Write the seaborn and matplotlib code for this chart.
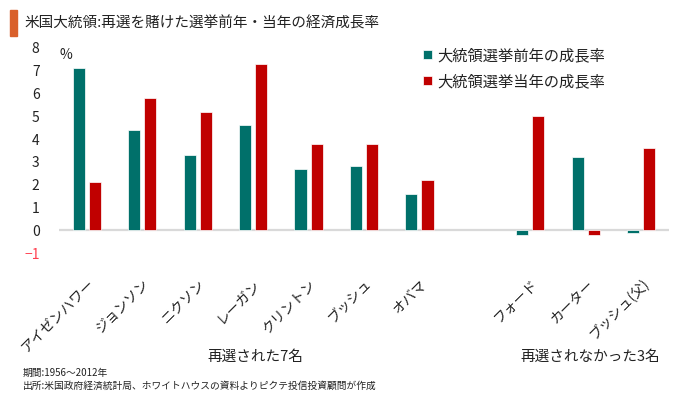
import matplotlib
matplotlib.use("Agg")
import matplotlib.pyplot as plt
import pandas as pd
import seaborn as sns

# 大統領 (空白は「再選された」と「再選されなかった」の区切り)
presidents = ["アイゼンハワー", "ジョンソン", "ニクソン", "レーガン", "クリントン",
              "ブッシュ", "オバマ", " ", "フォード", "カーター", "ブッシュ(父)"]
names_with_data = ["アイゼンハワー", "ジョンソン", "ニクソン", "レーガン", "クリントン",
                   "ブッシュ", "オバマ", "フォード", "カーター", "ブッシュ(父)"]
growth_prev_year = [7.1, 4.4, 3.3, 4.6, 2.7, 2.8, 1.6, -0.2, 3.2, -0.1]
growth_election_year = [2.1, 5.8, 5.2, 7.3, 3.8, 3.8, 2.2, 5.0, -0.2, 3.6]
series_names = ["大統領選挙前年の成長率", "大統領選挙当年の成長率"]
y_ticks = list(range(-1, 9))

sns.set_style("white")
plt.rcParams["font.family"] = ["Noto Sans CJK JP", "DejaVu Sans"]

df = pd.DataFrame({
    "name": names_with_data * 2,
    "value": growth_prev_year + growth_election_year,
    "series": [series_names[0]] * len(names_with_data) + [series_names[1]] * len(names_with_data),
})

fig = plt.figure(figsize=(6.8, 3.97), dpi=100)
ax = fig.add_axes([59 / 680, 0.3627, 610 / 680, 0.5164])

sns.barplot(data=df, x="name", y="value", hue="series", order=presidents,
            hue_order=series_names, palette=["#00706A", "#C00000"], saturation=1,
            width=0.58, gap=0.25, edgecolor="white", linewidth=0.5, ax=ax)

ax.axhline(0, color="#D9D9D9", lw=1.6, zorder=0)
ax.set_ylim(-1, 8)
ax.set_xlim(-0.5, len(presidents) - 0.5)
ax.set_yticks(y_ticks)
ax.set_yticklabels([str(t).replace("-", "−") for t in y_ticks], fontsize=10, color="#222222")
ax.get_yticklabels()[0].set_color("#FF4050")
ax.tick_params(axis="y", length=0, pad=14)
ax.tick_params(axis="x", length=0, pad=17)
ax.set_xticks(range(len(presidents)))
ax.set_xticklabels(presidents, rotation=45, ha="right", rotation_mode="anchor",
                   fontsize=10, color="#222222")
ax.set_xlabel("")
ax.set_ylabel("")
sns.despine(ax=ax, left=True, bottom=True)

ax.text(0.0, 1.0, "%", transform=ax.transAxes, fontsize=10, color="#222222",
        ha="left", va="top")

handles, labels = ax.get_legend_handles_labels()
ax.legend(handles, labels, frameon=False, fontsize=11, loc="upper left",
          bbox_to_anchor=(409 / 680, 1 - 33 / 397), bbox_transform=fig.transFigure,
          handlelength=0.6, handleheight=0.6, handletextpad=0.35, labelspacing=0.6,
          labelcolor="#222222")

# タイトル
fig.patches.append(plt.Rectangle((10 / 680, 1 - 36 / 397), 7 / 680, 26 / 397,
                                 transform=fig.transFigure, color="#D9602B"))
fig.text(24 / 680, 1 - 23 / 397, "米国大統領:再選を賭けた選挙前年・当年の経済成長率",
         fontsize=10.5, color="#222222", ha="left", va="center")

# グループ名
fig.text(255 / 680, 1 - 357 / 397, "再選された7名", fontsize=10.5, color="#222222",
         ha="center", va="center")
fig.text(590 / 680, 1 - 357 / 397, "再選されなかった3名", fontsize=10.5, color="#222222",
         ha="center", va="center")

# 注記
fig.text(23 / 680, 1 - 373 / 397, "期間:1956～2012年", fontsize=7, color="#222222",
         ha="left", va="center")
fig.text(23 / 680, 1 - 386 / 397, "出所:米国政府経済統計局、ホワイトハウスの資料よりピクテ投信投資顧問が作成",
         fontsize=7, color="#222222", ha="left", va="center")

fig.savefig("out.png", dpi=100)
